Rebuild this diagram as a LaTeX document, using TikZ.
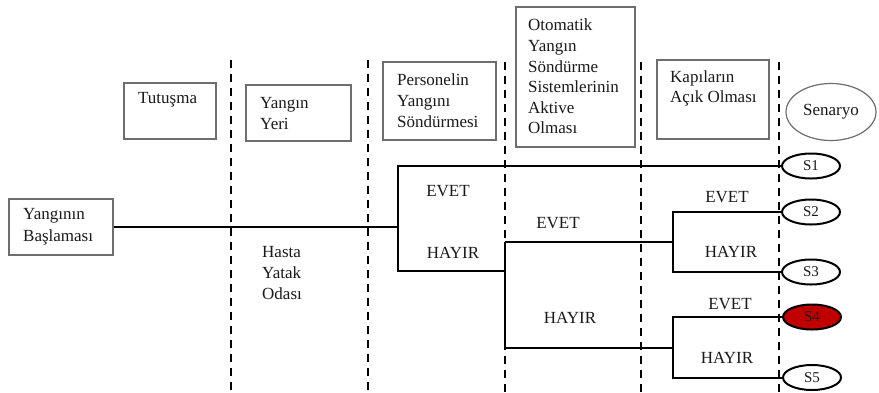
\documentclass[tikz,border=0pt]{standalone}
\usepackage{fontspec}
\setmainfont{Liberation Serif}
\usetikzlibrary{shapes.geometric}
\definecolor{boxgray}{HTML}{6E6E6E}
\definecolor{txtc}{HTML}{1A1A1A}
\definecolor{sred}{HTML}{C00000}
\begin{document}
\begin{tikzpicture}[x=1pt,y=-1pt,
  box/.style={draw=boxgray, line width=1.2pt, inner sep=0pt, fill=white},
  txt/.style={font=\rmfamily\fontsize{17}{21}\selectfont, text=txtc, inner sep=0pt, anchor=west, align=left},
  lbl/.style={font=\rmfamily\fontsize{17}{21}\selectfont, text=txtc, inner sep=0pt},
  tree/.style={draw=black, line width=2pt},
  divline/.style={draw=black, line width=2.5pt, dash pattern=on 8pt off 6pt},
  send/.style={ellipse, draw=black, line width=2pt, fill=white, minimum width=58pt, minimum height=25pt, inner sep=0pt, font=\rmfamily\fontsize{15}{17}\selectfont, text=txtc}
]
\useasboundingbox (0,0) rectangle (879,392);
\fill[white] (0,0) rectangle (879,392);

% dashed phase dividers
\foreach \xx/\yy in {231/60, 368/60, 505/62, 641/62, 779/62}
  \draw[divline] (\xx,\yy) -- (\xx,392);

% header boxes
\node[box, minimum width=92pt, minimum height=56pt] (tutB) at (170,111) {};
\node[txt] (tut) at (138,100) {Tutuşma};
\node[box, minimum width=105pt, minimum height=56pt] (yerB) at (298.5,113) {};
\node[txt] (yer) at (260,113.5) {Yangın\\Yeri};
\node[box, minimum width=113pt, minimum height=78pt] (perB) at (439.5,101) {};
\node[txt] (per) at (397,101) {Personelin\\Yangını\\Söndürmesi};
\node[box, minimum width=119pt, minimum height=140pt] (otoB) at (575.5,77) {};
\node[txt, font=\rmfamily\fontsize{17}{20.6}\selectfont] (oto) at (528,76.5) {Otomatik\\Yangın\\Söndürme\\Sistemlerinin\\Aktive\\Olması};
\node[box, minimum width=112pt, minimum height=79pt] (kapB) at (713,99.5) {};
\node[txt, font=\rmfamily\fontsize{17}{20}\selectfont] (kap) at (670,88) {Kapıların\\Açık Olması};
\node[ellipse, draw=boxgray, line width=1.2pt, minimum width=90pt, minimum height=57pt, inner sep=0pt, font=\rmfamily\fontsize{17}{21}\selectfont, text=txtc] (sen) at (831,112) {Senaryo};

% start box
\node[box, minimum width=104pt, minimum height=56pt] (start) at (61,227) {};
\node[txt, font=\rmfamily\fontsize{17}{22}\selectfont] (startT) at (23,227) {Yangının\\Başlaması};

% location text
\node[txt] (hasta) at (262,273.5) {Hasta\\Yatak\\Odası};

% scenario ellipses
\node[send] (s1) at (811,166) {S1};
\node[send] (s2) at (811,212) {S2};
\node[send] (s3) at (811,272) {S3};
\node[send, fill=sred] (s4) at (812,317) {S4};
\node[send] (s5) at (812,377.5) {S5};

% junction coordinates
\coordinate (j1) at (398,227);
\coordinate (j1t) at (398,166);
\coordinate (j1b) at (398,271);
\coordinate (j2) at (505,271);
\coordinate (j2t) at (505,242);
\coordinate (j2b) at (505,348);
\coordinate (j3) at (673,242);
\coordinate (j3t) at (673,212);
\coordinate (j3b) at (673,272);
\coordinate (j4) at (673,348);
\coordinate (j4t) at (673,317);
\coordinate (j4b) at (673,377.5);

% tree
\draw[tree] (start.east) -- (j1);
\draw[tree] (s1.west) -- (j1t) -- (j1b) -- (j2);
\draw[tree] (j2t) -- (j2b);
\draw[tree] (j2t) -- (j3);
\draw[tree] (j2b) -- (j4);
\draw[tree] (s2.west) -- (j3t) -- (j3b) -- (s3.west);
\draw[tree] (s4.west) -- (j4t) -- (j4b) -- (s5.west);

% branch labels
\node[lbl] (e1) at (448,191) {EVET};
\node[lbl] (h1) at (453,253) {HAYIR};
\node[lbl] (e2) at (558,223) {EVET};
\node[lbl] (h2) at (570,318) {HAYIR};
\node[lbl] (e3) at (727,197) {EVET};
\node[lbl] (h3) at (731,252) {HAYIR};
\node[lbl] (e4) at (730,304) {EVET};
\node[lbl] (h4) at (727,358) {HAYIR};
\end{tikzpicture}
\end{document}
